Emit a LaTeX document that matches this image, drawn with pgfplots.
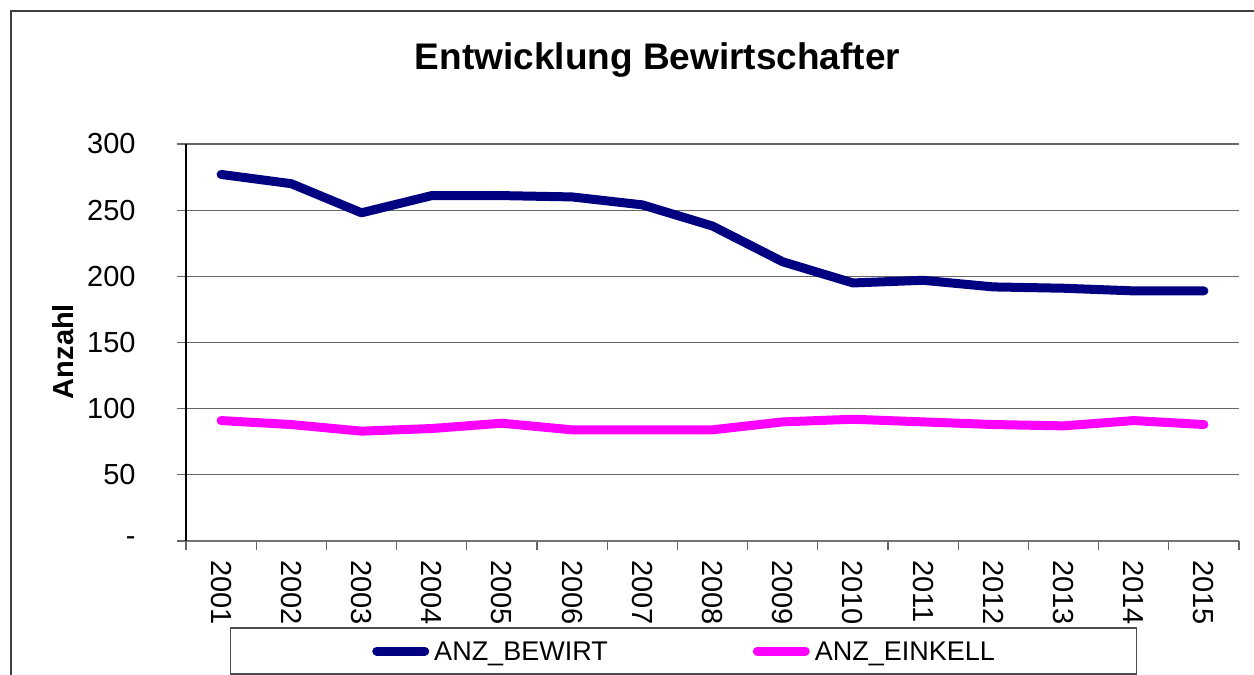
\documentclass[border=0pt]{standalone}
\usepackage{fontspec}
\setmainfont{Liberation Sans}
\usepackage{pgfplots}
\pgfplotsset{compat=1.18}
\definecolor{navyx}{RGB}{0,0,128}
\definecolor{magx}{RGB}{255,0,255}
\begin{document}
\begin{tikzpicture}
\useasboundingbox (0pt,0pt) rectangle (627pt,337.5pt);
\draw[black!75, line width=0.7pt] (5.5pt,0pt) -- (5.5pt,332pt) -- (627pt,332pt);
\node[anchor=base, inner sep=0pt, font=\fontsize{18.5}{22}\selectfont\bfseries] at (328.75pt,302.5pt) {Entwicklung Bewirtschafter};
\begin{axis}[
  at={(93pt,67pt)}, anchor=south west,
  scale only axis, width=526.5pt, height=198.5pt,
  xmin=0.5, xmax=15.5, ymin=0, ymax=300,
  axis x line=bottom, axis y line=left,
  axis line style={-},
  x axis line style={black!55, line width=0.6pt},
  y axis line style={black, line width=0.6pt},
  tick align=outside,
  major tick length=4.5pt,
  every tick/.style={black!60, line width=0.6pt},
  ytick={0,50,100,150,200,250,300},
  yticklabels={-,50,100,150,200,250,300},
  xtick={0.5,1.5,2.5,3.5,4.5,5.5,6.5,7.5,8.5,9.5,10.5,11.5,12.5,13.5,14.5,15.5},
  x tick label as interval,
  xticklabels={2001,2002,2003,2004,2005,2006,2007,2008,2009,2010,2011,2012,2013,2014,2015},
  /pgf/number format/assume math mode=true,
  ymajorgrids, grid style={black!60, line width=0.6pt},
  yticklabel style={inner sep=0pt, anchor=east, font=\fontsize{14.5}{17}\selectfont},
  xticklabel style={inner sep=0pt, rotate=-90, anchor=west, font=\fontsize{14.5}{17}\selectfont},
  yticklabel shift=20.5pt,
  xticklabel shift=5pt,
  ylabel={Anzahl},
  ylabel style={at={(axis description cs:-0.1073,0.4773)}, anchor=base, inner sep=0pt, font=\fontsize{14.5}{17}\selectfont\bfseries},
  legend columns=2,
  legend image code/.code={\draw[#1] (0pt,0pt) -- (24pt,0pt);},
  legend style={at={(0.4725,-0.2771)}, anchor=center, draw=black!70, line width=0.6pt,
    inner xsep=71pt, inner ysep=5pt,
    font=\fontsize{13.5}{16}\selectfont,
    nodes={inner sep=0pt, text height=11pt, text depth=2pt},
    /tikz/every odd column/.append style={column sep=2.5pt},
    /tikz/every even column/.append style={column sep=72.5pt}},
]
\addplot[color=navyx, line width=4.5pt, line cap=round, line join=round] coordinates {
(1,277) (2,270) (3,248) (4,261) (5,261) (6,260) (7,254) (8,238) (9,211) (10,195) (11,197) (12,192) (13,191) (14,189) (15,189)};
\addlegendentry{ANZ\_BEWIRT}
\addplot[color=magx, line width=4.5pt, line cap=round, line join=round] coordinates {
(1,91) (2,88) (3,83) (4,85) (5,89) (6,84) (7,84) (8,84) (9,90) (10,92) (11,90) (12,88) (13,87) (14,91) (15,88)};
\addlegendentry{ANZ\_EINKELL}
\end{axis}
\end{tikzpicture}
\end{document}
